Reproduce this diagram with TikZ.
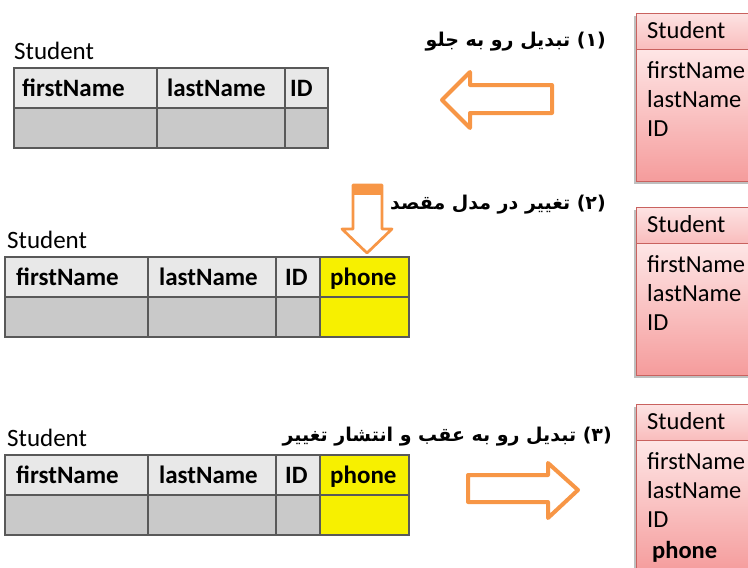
\documentclass[tikz,border=0pt]{standalone}
\usepackage{fontspec}
\setmainfont{Carlito}
\newfontfamily\arabicfont[Script=Arabic]{DejaVu Sans}
\TeXXeTstate=1
\usepackage{tikz}

\definecolor{hdrgray}{HTML}{E8E8E8}
\definecolor{datgray}{HTML}{C9C9C9}
\definecolor{phoneyel}{HTML}{F7F000}
\definecolor{arroworange}{HTML}{F79646}
\definecolor{umlborder}{HTML}{C9625F}
\definecolor{umlhdrtop}{HTML}{FDE3E3}
\definecolor{umlhdrbot}{HTML}{F9BDBD}
\definecolor{umlbodtop}{HTML}{FEE6E6}
\definecolor{umlbodbot}{HTML}{F59C9C}

\begin{document}
\begin{tikzpicture}[x=1pt,y=-1pt]
	\def\fs{25}      % table font size
	\def\bs{24.5}    % uml box font size
	\def\rowh{40}    % table row height

\tikzset{
	grid/.style={draw=black!65, line width=1.3pt},
	colname/.style={anchor=base west, inner sep=0pt, font=\fontsize{\fs}{\fs}\selectfont\bfseries},
	tabname/.style={anchor=base west, inner sep=0pt, font=\fontsize{\fs}{\fs}\selectfont},
	field/.style={anchor=base west, inner sep=0pt, font=\fontsize{\bs}{\bs}\selectfont},
	fatext/.style={anchor=east, inner sep=0pt, font=\arabicfont\fontsize{19}{22}\selectfont\bfseries},
	bigarrow/.style={draw=arroworange, fill=white, line width=4pt, line join=round},
}

\useasboundingbox (0,0) rectangle (748,568);

% table before the change
\fill[hdrgray] (14,68) rectangle (328,108);
\fill[datgray] (14,108) rectangle (328,148);
\draw[grid] (14,68) rectangle (328,148);
\draw[grid] (14,108) -- (328,108);
\foreach \x in {157,285} \draw[grid] (\x,68) -- (\x,148);

\node[tabname] (tabA) at (14,59) {Student};
\node[colname] (tabAfirst) at (22,96) {firstName};
\node[colname] (tabAlast) at (167,96) {lastName};
\node[colname] (tabAid) at (290,96) {ID};

% table with the new column
\foreach \yy/\nm in {257/B,455/C}{
	\fill[hdrgray] (5,\yy) rectangle (320,\yy+\rowh);
	\fill[datgray] (5,\yy+\rowh) rectangle (320,\yy+2*\rowh);
	\fill[phoneyel] (320,\yy) rectangle (409,\yy+2*\rowh);
	\draw[grid] (5,\yy) rectangle (409,\yy+2*\rowh);
	\draw[grid] (5,\yy+\rowh) -- (409,\yy+\rowh);
	\foreach \x in {148,276,320} \draw[grid] (\x,\yy) -- (\x,\yy+2*\rowh);

	\node[tabname] (tab\nm) at (7,\yy-9) {Student};
	\node[colname] (tab\nm first) at (16,\yy+28) {firstName};
	\node[colname] (tab\nm last) at (159,\yy+28) {lastName};
	\node[colname] (tab\nm id) at (285,\yy+28) {ID};
	\node[colname] (tab\nm phone) at (330,\yy+28) {phone};
}

% uml classes on the right
\foreach \yy/\nm in {13/P,207/Q,404/R}{
	\fill[black!25] (634,\yy+3) rectangle (760,\yy+171);
	\shade[top color=umlhdrtop, bottom color=umlhdrbot] (636,\yy) rectangle (760,\yy+36);
	\shade[top color=umlbodtop, bottom color=umlbodbot] (636,\yy+36) rectangle (760,\yy+168);
	\draw[umlborder, line width=1pt] (636,\yy) rectangle (760,\yy+168);
	\draw[umlborder, line width=1pt] (636,\yy+36) -- (760,\yy+36);

	\node[field] (cls\nm) at (647,\yy+25) {Student};
	\node[field] (cls\nm first) at (647,\yy+65) {firstName};
	\node[field] (cls\nm last) at (647,\yy+94) {lastName};
	\node[field] (cls\nm id) at (647,\yy+123) {ID};
}
\node[colname, font=\fontsize{\bs}{\bs}\selectfont\bfseries] (clsRphone) at (652,558) {phone};

% block arrows
\draw[bigarrow] (552,85) -- (470,85) -- (470,72) -- (442,100) -- (470,128) -- (470,113) -- (552,113) -- cycle;

\draw[bigarrow, line width=2.7pt] (353,185) -- (382,185) -- (382,229) -- (392,229) -- (367,253) -- (342,229) -- (353,229) -- cycle;
\fill[arroworange] (353,184) rectangle (382,195);

\draw[bigarrow] (468,475) -- (548,475) -- (548,463) -- (578,490) -- (548,518) -- (548,502) -- (468,502) -- cycle;

% step captions
\node[fatext] (stepone) at (606,42) {\beginR(۱) تبدیل رو به جلو\endR};
\node[fatext] (steptwo) at (606,205) {\beginR(۲) تغییر در مدل مقصد\endR};
\node[fatext] (stepthree) at (612,437) {\beginR(۳) تبدیل رو به عقب و انتشار تغییر\endR};

\end{tikzpicture}
\end{document}
